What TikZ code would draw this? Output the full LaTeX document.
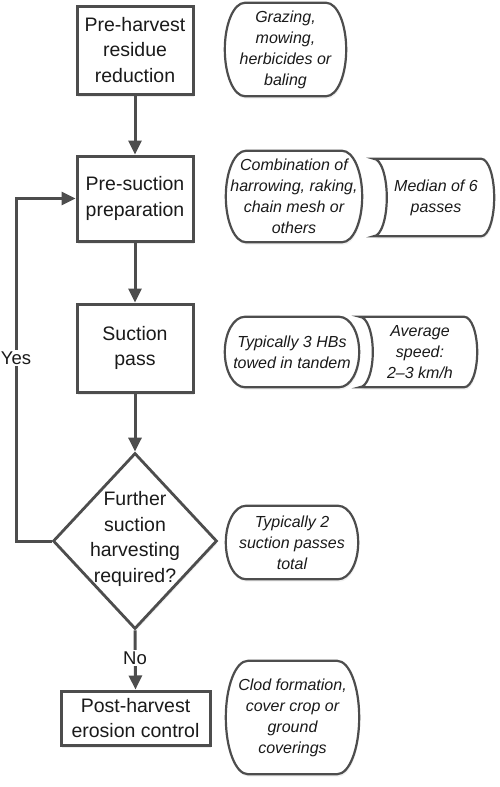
\documentclass[tikz,border=0pt]{standalone}
\usepackage{fontspec}
\setmainfont{Liberation Sans}
\usetikzlibrary{arrows.meta,calc,shapes.geometric,shadows}
\definecolor{ln}{HTML}{4D4D4D}
\definecolor{tx}{HTML}{1A1A1A}
\newcommand{\stadbox}[3]{% name, r, style
  \draw[#3] ([xshift=#2]#1.north west) -- ([xshift=-#2]#1.north east)
  .. controls ([xshift=-0.448*#2]#1.north east) and ($(#1.north east)!0.448!(#1.east)$) .. (#1.east)
  .. controls ($(#1.south east)!0.448!(#1.east)$) and ([xshift=-0.448*#2]#1.south east) .. ([xshift=-#2]#1.south east)
  -- ([xshift=#2]#1.south west)
  .. controls ([xshift=0.448*#2]#1.south west) and ($(#1.south west)!0.448!(#1.west)$) .. (#1.west)
  .. controls ($(#1.north west)!0.448!(#1.west)$) and ([xshift=0.448*#2]#1.north west) .. cycle;}
\newcommand{\storebox}[3]{% name, r, style
  \draw[#3] (#1.north west) -- ([xshift=-#2]#1.north east)
  .. controls ([xshift=-0.448*#2]#1.north east) and ($(#1.north east)!0.448!(#1.east)$) .. (#1.east)
  .. controls ($(#1.south east)!0.448!(#1.east)$) and ([xshift=-0.448*#2]#1.south east) .. ([xshift=-#2]#1.south east)
  -- (#1.south west)
  .. controls ([xshift=0.552*#2]#1.south west) and ($(#1.south west)!0.448!(#1.west)+(#2,0)$) .. ([xshift=#2]#1.west)
  .. controls ($(#1.north west)!0.448!(#1.west)+(#2,0)$) and ([xshift=0.552*#2]#1.north west) .. cycle;}
\begin{document}
\begin{tikzpicture}[x=1pt,y=-1pt,
  mainbox/.style={draw=ln, line width=3pt, fill=white, inner sep=0pt, align=center,
    text=tx, font=\fontsize{19.5}{25.5}\selectfont,
    drop shadow={opacity=0.15, shadow xshift=1pt, shadow yshift=-2.5pt}},
  sidetext/.style={inner sep=0pt, align=center, text=tx,
    font=\itshape\fontsize{16}{21}\selectfont},
  sideline/.style={draw=ln, line width=2.2pt, fill=white,
    drop shadow={opacity=0.12, shadow xshift=1pt, shadow yshift=-2.5pt}},
  arr/.style={draw=ln, line width=3pt, -{Triangle[width=13pt,length=14pt]}},
  lbl/.style={fill=white, inner sep=2pt, text=tx, font=\fontsize{18.5}{22}\selectfont}]
\useasboundingbox (0,0) rectangle (500,787);

% main flow
\node[mainbox, minimum width=116pt, minimum height=88pt] (b1) at (135,50) {Pre-harvest\\residue\\reduction};
\node[mainbox, minimum width=116pt, minimum height=85pt] (b2) at (135,198.5) {Pre-suction\\preparation};
\node[mainbox, minimum width=116pt, minimum height=88pt] (b3) at (135,348) {Suction\\pass};
\node[draw=ln, line width=2.8pt, fill=white, diamond, inner sep=0pt,
  minimum width=164pt, minimum height=176pt,
  drop shadow={opacity=0.12, shadow xshift=1pt, shadow yshift=-2.5pt}] (dec) at (135,541) {};
\node[align=center, inner sep=0pt, text=tx, font=\fontsize{19.5}{25.5}\selectfont] (dectext) at (135,539) {Further\\suction\\harvesting\\required?};
\node[mainbox, minimum width=149pt, minimum height=54pt] (b5) at (135.5,718) {Post-harvest\\erosion control};

\draw[arr] (b1.south) -- (b2.north);
\draw[arr] (b2.south) -- (b3.north);
\draw[arr] (b3.south) -- (dec.north);
\draw[arr] (dec.south) -- (b5.north);
\coordinate (loopx) at (16,0);
\draw[arr] (dec.west) -- (dec.west -| loopx) |- (b2.west);
\node[lbl] (yes) at (16,358) {Yes};
\node[lbl] (no) at (135,658) {No};

% side notes
\node[sidetext, minimum width=121pt, minimum height=93pt] (g) at (285.5,49.5) {};
\stadbox{g}{20pt}{sideline}
\node[sidetext] (gt) at (g) {Grazing,\\mowing,\\herbicides or\\baling};

\node[sidetext, minimum width=136pt, minimum height=91pt] (c) at (294,196.5) {};
\stadbox{c}{20pt}{sideline}
\node[sidetext] (ct) at (c) {Combination of\\harrowing, raking,\\chain mesh or\\others};

\node[sidetext, minimum width=120pt, minimum height=77pt] (m) at (434,197.5) {};
\storebox{m}{13pt}{sideline}
\node[sidetext] (mt) at (436,197.5) {Median of 6\\passes};

\node[sidetext, minimum width=134pt, minimum height=70pt] (t3) at (292,352) {};
\stadbox{t3}{20pt}{sideline}
\node[sidetext] (t3t) at (t3) {Typically 3 HBs\\towed in tandem};

\node[sidetext, minimum width=117pt, minimum height=70pt] (av) at (418.5,352) {};
\storebox{av}{13pt}{sideline}
\node[sidetext] (avt) at (420,352) {Average\\speed:\\2--3 km/h};

\node[sidetext, minimum width=132pt, minimum height=73pt] (t2) at (292,542.5) {};
\stadbox{t2}{20pt}{sideline}
\node[sidetext] (t2t) at (t2) {Typically 2\\suction passes\\total};

\node[sidetext, minimum width=133pt, minimum height=113pt] (cl) at (292.5,717.5) {};
\stadbox{cl}{22pt}{sideline}
\node[sidetext] (clt) at (cl) {Clod formation,\\cover crop or\\ground\\coverings};
\end{tikzpicture}
\end{document}
